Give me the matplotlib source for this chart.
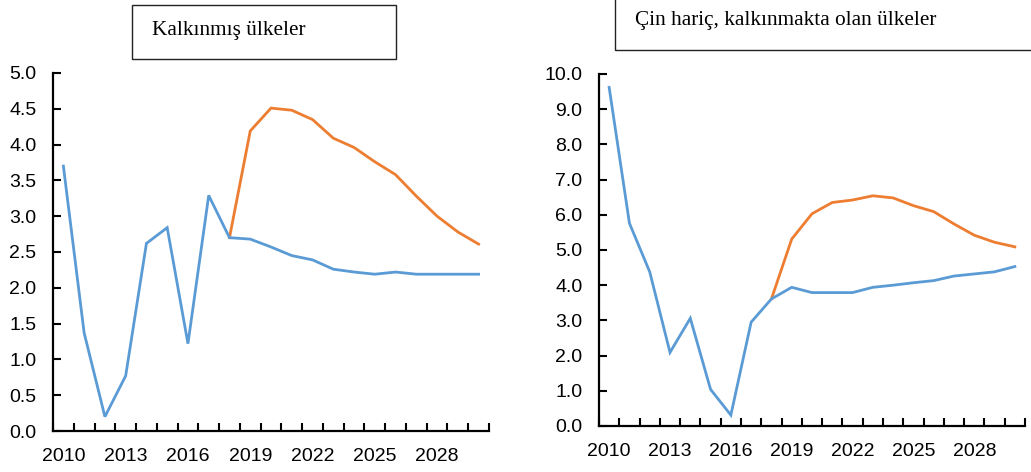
import matplotlib
matplotlib.use("Agg")
import matplotlib.pyplot as plt
from matplotlib.patches import Rectangle
import numpy as np

years = list(range(2010, 2031))
tick_label_years = [2010, 2013, 2016, 2019, 2022, 2025, 2028]

dev_base = [3.70, 1.37, 0.20, 0.77, 2.62, 2.84, 1.22, 3.29, 2.70, 2.68, 2.57,
            2.45, 2.39, 2.26, 2.22, 2.19, 2.22, 2.19, 2.19, 2.19, 2.19]
dev_alt = [None] * 8 + [2.70, 4.19, 4.51, 4.48, 4.35, 4.09, 3.96, 3.76, 3.58,
                        3.28, 3.00, 2.78, 2.61]

emg_base = [9.62, 5.76, 4.38, 2.09, 3.06, 1.04, 0.31, 2.95, 3.61, 3.94, 3.79,
            3.79, 3.79, 3.94, 4.00, 4.07, 4.13, 4.26, 4.32, 4.38, 4.53]
emg_alt = [None] * 8 + [3.61, 5.31, 6.03, 6.35, 6.42, 6.54, 6.48, 6.26, 6.09,
                        5.74, 5.42, 5.22, 5.09]

titles = ["Kalkınmış ülkeler", "Çin hariç, kalkınmakta olan ülkeler"]

BLUE = "#5B9BD5"
ORANGE = "#ED7D31"

W, H = 1031, 472
fig = plt.figure(figsize=(W / 100, H / 100), dpi=100)

def frac(x0, y0, x1, y1):
    return [x0 / W, 1 - y1 / H, (x1 - x0) / W, (y1 - y0) / H]

ax1 = fig.add_axes(frac(53, 73, 489, 431))
ax2 = fig.add_axes(frac(599, 74, 1025, 426))

def style(ax, base, alt, ymax, ystep):
    x = np.arange(len(years))
    alt_arr = np.array([np.nan if v is None else v for v in alt], dtype=float)
    ax.plot(x, alt_arr, color=ORANGE, lw=2.0, solid_joinstyle="miter", zorder=3)
    ax.plot(x, base, color=BLUE, lw=2.0, solid_joinstyle="miter", zorder=4)
    ax.set_xlim(-0.5, len(years) - 0.5)
    ax.set_ylim(0, ymax)
    ax.set_yticks(np.arange(0, ymax + 1e-9, ystep))
    ax.set_yticklabels([f"{v:.1f}" for v in np.arange(0, ymax + 1e-9, ystep)])
    ax.set_xticks(np.arange(-0.5, len(years)))
    ax.set_xticklabels([])
    ax.set_xticks([years.index(y) for y in tick_label_years], minor=True)
    ax.set_xticklabels([str(y) for y in tick_label_years], minor=True)
    ax.tick_params(axis="x", which="major", direction="in", length=6, width=1.5, color="black")
    ax.tick_params(axis="x", which="minor", length=0, pad=12, labelsize=14)
    ax.tick_params(axis="y", direction="in", length=6, width=1.5, pad=12, labelsize=14)
    for s in ["top", "right"]:
        ax.spines[s].set_visible(False)
    for s in ["left", "bottom"]:
        ax.spines[s].set_linewidth(1.6)
        ax.spines[s].set_color("black")
    for lab in ax.get_xticklabels(minor=True) + ax.get_yticklabels():
        lab.set_family("Liberation Sans")

style(ax1, dev_base, dev_alt, 5.0, 0.5)
style(ax2, emg_base, emg_alt, 10.0, 1.0)

# title boxes
fig.patches.append(Rectangle((132 / W, 1 - 59 / H), (396 - 132) / W, (59 - 5) / H,
                             transform=fig.transFigure, fill=False, edgecolor="#222222", lw=1.0))
fig.patches.append(Rectangle((615 / W, 1 - 50 / H), (1045 - 615) / W, (70) / H,
                             transform=fig.transFigure, fill=False, edgecolor="#222222", lw=1.0))
fig.text(152 / W, 1 - 35 / H, titles[0], family="Liberation Serif", fontsize=15.3,
         ha="left", va="baseline")
fig.text(635 / W, 1 - 25 / H, titles[1], family="Liberation Serif", fontsize=15.3,
         ha="left", va="baseline")

fig.savefig("out.png", dpi=100)
